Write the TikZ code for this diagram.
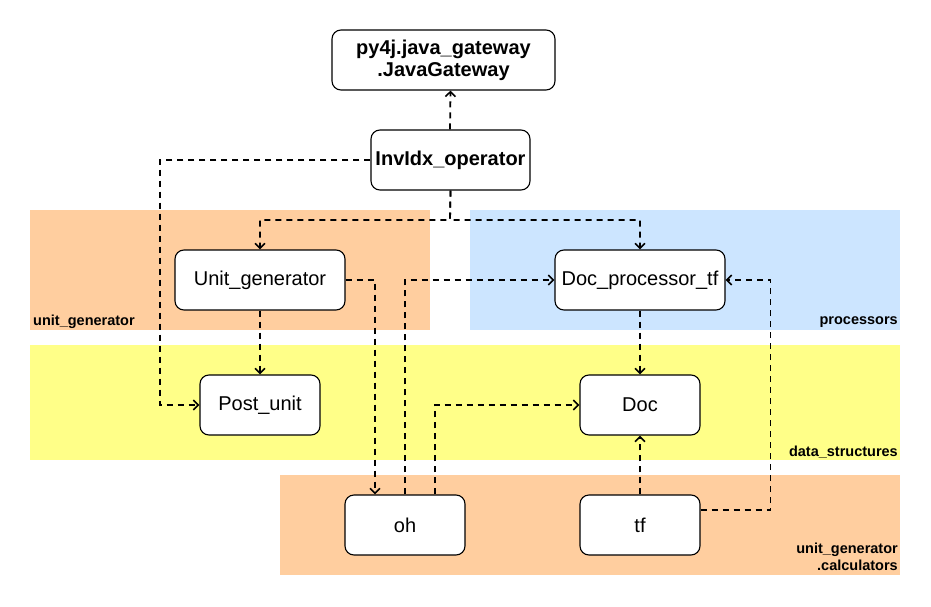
\documentclass[tikz,border=0pt]{standalone}
\usepackage{fontspec}
\setmainfont{Liberation Sans}
\usetikzlibrary{arrows.meta}
\definecolor{pkgorange}{HTML}{FFCE9F}
\definecolor{pkgblue}{HTML}{CCE5FF}
\definecolor{pkgyellow}{HTML}{FFFF88}
\tikzset{
  cls/.style={draw=black, line width=1.1pt, rounded corners=9pt, fill=white,
    minimum width=120pt, minimum height=60pt, inner sep=0pt, align=center,
    font=\fontsize{20}{22}\selectfont},
  clsbold/.style={cls, font=\fontsize{20}{22}\selectfont\bfseries},
  pkglabel/.style={font=\fontsize{14.5}{17}\selectfont\bfseries, inner sep=0pt, align=right},
  link/.style={line width=1.8pt, dash pattern=on 6pt off 5pt,
    -{Straight Barb[length=5pt,width=10pt,line width=1.6pt]}},
}
\begin{document}
\begin{tikzpicture}[x=1pt,y=-1pt]
  \useasboundingbox[fill=white] (0,0) rectangle (931,607);

  % package areas
  \fill[pkgorange] (30,210) rectangle (430,330);
  \fill[pkgblue] (470,210) rectangle (900,330);
  \fill[pkgyellow] (30,345) rectangle (900,460);
  \fill[pkgorange] (280,475) rectangle (900,575);

  \node[pkglabel, anchor=west] (lblug) at (33,322) {unit\_generator};
  \node[pkglabel, anchor=east] (lblproc) at (898,322) {processors};
  \node[pkglabel, anchor=east] (lblds) at (898,452) {data\_structures};
  \node[pkglabel, anchor=south east] (lblcalc) at (898,571) {unit\_generator\\.calculators};

  % classes
  \node[clsbold, minimum width=223pt] (jg) at (443.5,60) {py4j.java\_gateway\\.JavaGateway};
  \node[clsbold, minimum width=159pt] (inv) at (450.5,160) {InvIdx\_operator};
  \node[cls, minimum width=170pt] (ug) at (260,280) {Unit\_generator};
  \node[cls, minimum width=170pt] (dp) at (640,280) {Doc\_processor\_tf};
  \node[cls] (pu) at (260,405) {Post\_unit};
  \node[cls] (doc) at (640,405) {Doc};
  \node[cls] (oh) at (405,525) {oh};
  \node[cls] (tf) at (640,525) {tf};

  \coordinate (split) at (450,220);
  \coordinate (leftbend) at (160,405);

  % dependencies
  \draw[link] ([xshift=-0.5pt]inv.north) -- (jg.south -| inv.north);
  \draw[link] (inv.west) -| (leftbend) -- (pu.west);
  \draw[link] (inv.south) -- (split) -| (ug.north);
  \draw[link] (inv.south) -- (split) -| (dp.north);
  \draw[link] (ug.east) -| ([xshift=-30pt]oh.north);
  \draw[link] (ug.south) -- (pu.north);
  \draw[link] (oh.north) |- (dp.west);
  \draw[link] ([xshift=30pt]oh.north) |- (doc.west);
  \draw[link] (dp.south) -- (doc.north);
  \draw[link] (tf.north) -- (doc.south);
  \draw[link] ([yshift=15pt]tf.east) -- ++(70,0) |- (dp.east);
\end{tikzpicture}
\end{document}
